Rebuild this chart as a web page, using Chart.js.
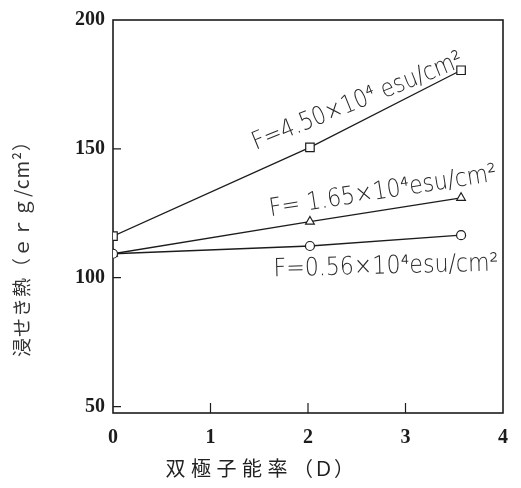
<!DOCTYPE html>
<html>
<head>
<meta charset="utf-8">
<script src="https://cdn.jsdelivr.net/npm/chart.js@4.4.1/dist/chart.umd.min.js"></script>
<style>
  html, body { margin: 0; background: #fff; }
  #wrap { width: 521px; height: 488px; }
</style>
</head>
<body>
<div id="wrap"><canvas id="c"></canvas></div>
<script>
// Dipole moment (D) of the immersion liquid
const dipole = [0, 2.02, 3.57];
// Heat of immersion (erg/cm²) for each surface field strength
const heatHigh = [116.1, 150.6, 180.5];   // F = 4.50×10⁴ esu/cm²
const heatMid  = [109.3, 121.8, 131.0];   // F = 1.65×10⁴ esu/cm²
const heatLow  = [109.3, 112.3, 116.5];   // F = 0.56×10⁴ esu/cm²

const xTickValues = [0, 1, 2, 3, 4];
const yTickValues = [50, 100, 150, 200];

const fieldLabels = ['F=4.50×10⁴ esu/cm²', 'F= 1.65×10⁴esu/cm²', 'F=0.56×10⁴esu/cm²'];
const xTitle = '双 極 子 能 率 （Ｄ）';
const yTitle = '浸せき熱（ｅｒｇ/cm²）';

// Label anchors in data units, with slant (deg) and drawn width (px)
const labelPlacement = [
  { x: 2.51, y: 168.2, angle: -22,  width: 225 },
  { x: 2.77, y: 133.3, angle: -9,   width: 230 },
  { x: 2.80, y: 104.2, angle: -1.5, width: 225 }
];

const ink = '#1c1c1c';
const toPoints = ys => dipole.map((d, i) => ({ x: d, y: ys[i] }));

const lineStyle = {
  showLine: true,
  borderColor: ink,
  borderWidth: 1.3,
  pointBackgroundColor: '#fff',
  pointBorderColor: ink,
  pointBorderWidth: 1.2,
  pointHoverRadius: 0
};

// Box around the plot and short inward tick marks
const frame = {
  id: 'frame',
  beforeDatasetsDraw(chart) {
    const { ctx, chartArea: a, scales: { x, y } } = chart;
    ctx.save();
    ctx.strokeStyle = ink;
    ctx.lineWidth = 1.6;
    ctx.strokeRect(a.left, a.top, a.right - a.left, a.bottom - a.top);
    ctx.lineWidth = 1.2;
    ctx.beginPath();
    x.ticks.forEach(t => {
      if (t.value <= x.min || t.value >= x.max) return;
      const px = x.getPixelForValue(t.value);
      ctx.moveTo(px, a.bottom);
      ctx.lineTo(px, a.bottom - 10);
    });
    y.ticks.forEach(t => {
      if (t.value >= y.max) return;
      const py = y.getPixelForValue(t.value);
      ctx.moveTo(a.left, py);
      ctx.lineTo(a.left + 8, py);
    });
    ctx.stroke();
    ctx.restore();
  }
};

// Field-strength captions along the lines, and the axis titles
const captions = {
  id: 'captions',
  afterDraw(chart) {
    const { ctx, scales: { x, y } } = chart;
    ctx.save();
    ctx.fillStyle = '#2a2a2a';
    ctx.textAlign = 'center';
    ctx.textBaseline = 'middle';
    fieldLabels.forEach((txt, i) => {
      const p = labelPlacement[i];
      ctx.save();
      ctx.translate(x.getPixelForValue(p.x), y.getPixelForValue(p.y));
      ctx.rotate(p.angle * Math.PI / 180);
      ctx.font = "200 25px 'DejaVu Sans'";
      const w = ctx.measureText(txt).width;
      ctx.scale(p.width / w, 1);
      ctx.fillText(txt, 0, 0);
      ctx.restore();
    });

    ctx.fillStyle = '#222';
    ctx.font = "20px 'Noto Sans CJK JP'";
    ctx.letterSpacing = '0.5px';
    ctx.fillText(xTitle, 260, 468);

    ctx.save();
    ctx.translate(22, 244);
    ctx.rotate(-Math.PI / 2);
    ctx.fillStyle = '#333';
    ctx.font = "19px 'Noto Sans CJK JP'";
    ctx.letterSpacing = '1px';
    ctx.fillText(yTitle, 0, 0);
    ctx.restore();
    ctx.restore();
  }
};

const tickFont = { family: "'Liberation Serif', 'DejaVu Serif', serif", size: 20, weight: 'bold' };

new Chart(document.getElementById('c'), {
  type: 'scatter',
  data: {
    datasets: [
      { ...lineStyle, data: toPoints(heatHigh), pointStyle: 'rect', pointRadius: 6 },
      { ...lineStyle, data: toPoints(heatLow), pointStyle: 'circle', pointRadius: 4.5 },
      { ...lineStyle, data: toPoints(heatMid), pointStyle: 'triangle', pointRadius: 5 }
    ]
  },
  options: {
    responsive: true,
    maintainAspectRatio: false,
    animation: false,
    events: [],
    layout: { padding: { top: 15, right: 5, left: 0, bottom: 0 } },
    plugins: { legend: { display: false }, tooltip: { enabled: false } },
    scales: {
      x: {
        type: 'linear',
        min: 0,
        max: 4,
        afterBuildTicks: s => { s.ticks = xTickValues.map(v => ({ value: v })); },
        afterFit: s => { s.height = 75; },
        grid: { display: false, drawTicks: false },
        border: { display: false },
        ticks: { font: tickFont, color: ink, padding: 13, maxRotation: 0 }
      },
      y: {
        type: 'linear',
        min: 47.5,
        max: 200,
        afterBuildTicks: s => { s.ticks = yTickValues.map(v => ({ value: v })); },
        afterFit: s => { s.width = 113; },
        grid: { display: false, drawTicks: false },
        border: { display: false },
        ticks: { font: tickFont, color: ink, padding: 8 }
      }
    }
  },
  plugins: [frame, captions]
});
</script>
</body>
</html>
